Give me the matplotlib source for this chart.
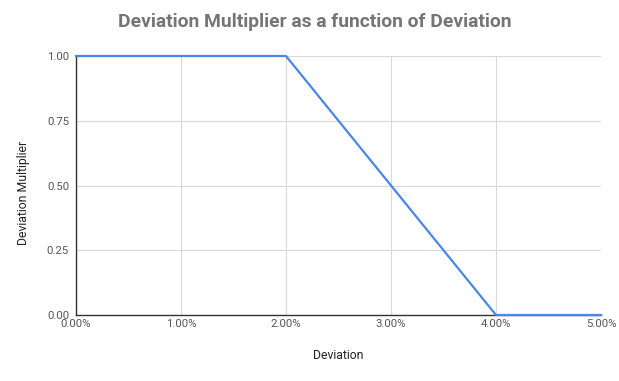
import matplotlib
matplotlib.use("Agg")
import matplotlib.pyplot as plt
from matplotlib.ticker import FuncFormatter

# data
deviation = [0.0, 0.02, 0.03, 0.04, 0.05]
multiplier = [1.0, 1.0, 0.5, 0.0, 0.0]
x_ticks = [0.0, 0.01, 0.02, 0.03, 0.04, 0.05]
y_ticks = [0.0, 0.25, 0.5, 0.75, 1.0]

plt.rcParams['font.family'] = ['Roboto', 'DejaVu Sans']

fig = plt.figure(figsize=(6.19, 3.81), dpi=100)
ax = fig.add_axes([76 / 619, 66 / 381, 525 / 619, 259 / 381])

ax.plot(deviation, multiplier, color='#4a86e8', linewidth=1.6, clip_on=False, zorder=3)

ax.set_xlim(0, 0.05)
ax.set_ylim(0, 1)
ax.set_xticks(x_ticks)
ax.set_yticks(y_ticks)
ax.xaxis.set_major_formatter(FuncFormatter(lambda v, p: f"{v * 100:.2f}%"))
ax.yaxis.set_major_formatter(FuncFormatter(lambda v, p: f"{v:.2f}"))
ax.grid(True, color='#d9d9d9', linewidth=0.8)
ax.set_axisbelow(True)
ax.tick_params(length=0, labelsize=8.2, colors='#555555', pad=5)
ax.tick_params(axis='x', pad=3)

for s in ['top', 'right']:
    ax.spines[s].set_visible(False)
for s in ['left', 'bottom']:
    ax.spines[s].set_color('#333333')
    ax.spines[s].set_linewidth(1.0)

ax.set_xlabel('Deviation', fontsize=8.8, color='#222222', labelpad=14)
ax.set_ylabel('Deviation Multiplier', fontsize=8.8, color='#222222')
ax.yaxis.set_label_coords(-0.087, 0.47)

fig.text(315 / 619, 1 - 22 / 381, 'Deviation Multiplier as a function of Deviation',
         ha='center', va='center', fontsize=13.9, fontweight='bold', color='#757575')

fig.savefig('out.png', dpi=100)
